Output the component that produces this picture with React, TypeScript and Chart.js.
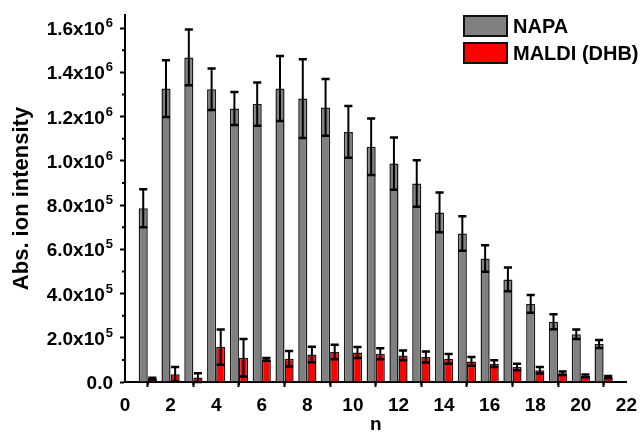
import React, { useEffect, useRef } from 'react';
import { Chart, registerables } from 'chart.js';

Chart.register(...registerables);

const nValues = [1, 2, 3, 4, 5, 6, 7, 8, 9, 10, 11, 12, 13, 14, 15, 16, 17, 18, 19, 20, 21];
const napaValues = [786000, 1327000, 1468000, 1324000, 1237000, 1257000, 1327000, 1282000, 1242000, 1131000, 1064000, 988000, 898000, 767000, 672000, 559000, 464000, 353000, 273000, 216000, 172000];
const napaErrors = [86000, 128000, 126000, 94000, 75000, 98000, 147000, 178000, 128000, 117000, 128000, 118000, 105000, 90000, 78000, 60000, 54000, 40000, 34000, 22000, 18000];
const maldiValues = [15000, 35000, 20000, 158000, 110000, 102000, 105000, 124000, 136000, 133000, 128000, 120000, 113000, 105000, 93000, 83000, 68000, 53000, 40000, 28000, 22000];
const maldiErrors = [4000, 33000, 20000, 80000, 85000, 6000, 35000, 35000, 33000, 25000, 25000, 22000, 25000, 22000, 20000, 15000, 15000, 15000, 8000, 6000, 5000];

const xTickValues = [0, 2, 4, 6, 8, 10, 12, 14, 16, 18, 20, 22];
const xMinorTicks = [1, 3, 5, 7, 9, 11, 13, 15, 17, 19, 21];
const yTickValues = [0, 200000, 400000, 600000, 800000, 1000000, 1200000, 1400000, 1600000];
const yMinorTicks = [100000, 300000, 500000, 700000, 900000, 1100000, 1300000, 1500000];

const seriesLabels = ['NAPA', 'MALDI (DHB)'];
const seriesColors = ['#808080', '#ff0000'];
const xTitle = 'n';
const yTitle = 'Abs. ion intensity';

const FONT = '"Liberation Sans", Arial, sans-serif';

// split a value into mantissa text and exponent text, e.g. ["1.6x10", "6"]
function splitY(v: number): [string, string] {
  if (v === 0) return ['0.0', ''];
  const exp = Math.floor(Math.log10(v) + 1e-9);
  const mant = v / Math.pow(10, exp);
  return [mant.toFixed(1) + 'x10', String(exp)];
}

const errorBarPlugin = {
  id: 'errorBars',
  afterDatasetsDraw(chart: any) {
    const ctx = chart.ctx;
    const yScale = chart.scales.y;
    const errs = [napaErrors, maldiErrors];
    const vals = [napaValues, maldiValues];
    ctx.save();
    ctx.strokeStyle = '#000';
    chart.data.datasets.forEach((_ds: any, i: number) => {
      const meta = chart.getDatasetMeta(i);
      meta.data.forEach((el: any, j: number) => {
        const v = vals[i][j];
        const e = errs[i][j];
        const x = el.x;
        const half = el.width / 2 - 0.5;
        const yt = yScale.getPixelForValue(v + e);
        const yb = yScale.getPixelForValue(Math.max(v - e, 0));
        ctx.lineWidth = 2;
        ctx.beginPath();
        ctx.moveTo(x, yt);
        ctx.lineTo(x, yb);
        ctx.stroke();
        ctx.lineWidth = 2.5;
        ctx.beginPath();
        ctx.moveTo(x - half, yt);
        ctx.lineTo(x + half, yt);
        ctx.moveTo(x - half, yb);
        ctx.lineTo(x + half, yb);
        ctx.stroke();
      });
    });
    ctx.restore();
  },
};

const axisExtrasPlugin = {
  id: 'axisExtras',
  afterDraw(chart: any) {
    const ctx = chart.ctx;
    const xs = chart.scales.x;
    const ys = chart.scales.y;
    const area = chart.chartArea;
    ctx.save();
    ctx.strokeStyle = '#000';
    ctx.lineWidth = 2;
    ctx.beginPath();
    xMinorTicks.forEach((v) => {
      const px = xs.getPixelForValue(v);
      ctx.moveTo(px, area.bottom);
      ctx.lineTo(px, area.bottom + 3);
    });
    yMinorTicks.forEach((v) => {
      const py = ys.getPixelForValue(v);
      ctx.moveTo(area.left, py);
      ctx.lineTo(area.left - 3, py);
    });
    ctx.stroke();

    // y tick labels with real superscript exponents
    const right = area.left - 12;
    ctx.fillStyle = '#000';
    ctx.textBaseline = 'alphabetic';
    ctx.textAlign = 'left';
    yTickValues.forEach((v) => {
      const py = ys.getPixelForValue(v);
      const [mant, exp] = splitY(v);
      ctx.font = `bold 13px ${FONT}`;
      const ew = exp ? ctx.measureText(exp).width : 0;
      ctx.font = `bold 19px ${FONT}`;
      const mw = ctx.measureText(mant).width;
      const gap = exp ? 1 : 0;
      const x0 = right - ew - gap - mw;
      const base = py + 7;
      ctx.fillText(mant, x0, base);
      if (exp) {
        ctx.font = `bold 13px ${FONT}`;
        ctx.fillText(exp, x0 + mw + gap, base - 8);
      }
    });
    ctx.restore();
  },
};

const legendPlugin = {
  id: 'customLegend',
  afterDraw(chart: any) {
    const ctx = chart.ctx;
    ctx.save();
    const bx = 464;
    const bw = 43;
    const bh = 20;
    const rows = [16, 43];
    chart.data.datasets.forEach((ds: any, i: number) => {
      const y = rows[i];
      ctx.fillStyle = ds.backgroundColor;
      ctx.fillRect(bx, y, bw, bh);
      ctx.strokeStyle = '#111';
      ctx.lineWidth = 2;
      ctx.strokeRect(bx, y, bw, bh);
      ctx.fillStyle = '#000';
      ctx.font = `bold 20px ${FONT}`;
      ctx.textBaseline = 'middle';
      ctx.textAlign = 'left';
      ctx.fillText(ds.label, bx + bw + 6, y + bh / 2 + 1);
    });
    ctx.restore();
  },
};

export default function App() {
  const ref = useRef<HTMLCanvasElement | null>(null);
  useEffect(() => {
    if (!ref.current) return;
    const chart = new Chart(ref.current, {
      type: 'bar',
      data: {
        datasets: [
          {
            label: seriesLabels[0],
            data: nValues.map((n, i) => ({ x: n, y: napaValues[i] })),
            backgroundColor: seriesColors[0],
            borderColor: '#1a1a1a',
            borderWidth: 1.5,
            categoryPercentage: 0.8,
            barPercentage: 1,
          },
          {
            label: seriesLabels[1],
            data: nValues.map((n, i) => ({ x: n, y: maldiValues[i] })),
            backgroundColor: seriesColors[1],
            borderColor: '#1a1a1a',
            borderWidth: 1.5,
            categoryPercentage: 0.8,
            barPercentage: 1,
          },
        ] as any,
      },
      options: {
        animation: false,
        responsive: true,
        maintainAspectRatio: false,
        layout: { padding: { top: 15, right: 11, left: 0, bottom: 0 } },
        plugins: { legend: { display: false }, tooltip: { enabled: false } },
        scales: {
          x: {
            type: 'linear',
            min: 0,
            max: 22,
            offset: false,
            afterBuildTicks: (scale: any) => {
              scale.ticks = xTickValues.map((v) => ({ value: v }));
            },
            ticks: {
              autoSkip: false,
              color: '#000',
              font: { family: FONT, size: 19, weight: 'bold' },
              padding: 7,
              maxRotation: 0,
            },
            grid: {
              drawOnChartArea: false,
              drawTicks: true,
              tickLength: 5,
              tickColor: '#000',
              tickWidth: 2,
            },
            border: { display: true, color: '#000', width: 2 },
            title: {
              display: true,
              text: xTitle,
              color: '#000',
              font: { family: FONT, size: 19, weight: 'bold' },
              padding: { top: 0, bottom: 0 },
            },
            afterFit: (scale: any) => {
              scale.height = 54;
            },
          },
          y: {
            type: 'linear',
            min: 0,
            max: 1660000,
            afterBuildTicks: (scale: any) => {
              scale.ticks = yTickValues.map((v) => ({ value: v }));
            },
            ticks: {
              display: false,
              autoSkip: false,
            },
            grid: {
              drawOnChartArea: false,
              drawTicks: true,
              tickLength: 5,
              tickColor: '#000',
              tickWidth: 2,
            },
            border: { display: true, color: '#000', width: 2 },
            title: {
              display: true,
              text: yTitle,
              color: '#000',
              font: { family: FONT, size: 22, weight: 'bold' },
              padding: { top: 9, bottom: 0 },
            },
            afterFit: (scale: any) => {
              scale.width = 125;
            },
          },
        },
      } as any,
      plugins: [errorBarPlugin, axisExtrasPlugin, legendPlugin],
    });
    return () => chart.destroy();
  }, []);
  return (
    <div style={{ position: 'fixed', left: 0, top: 0, width: 644, height: 436, background: '#fff' }}>
      <canvas ref={ref} />
    </div>
  );
}
